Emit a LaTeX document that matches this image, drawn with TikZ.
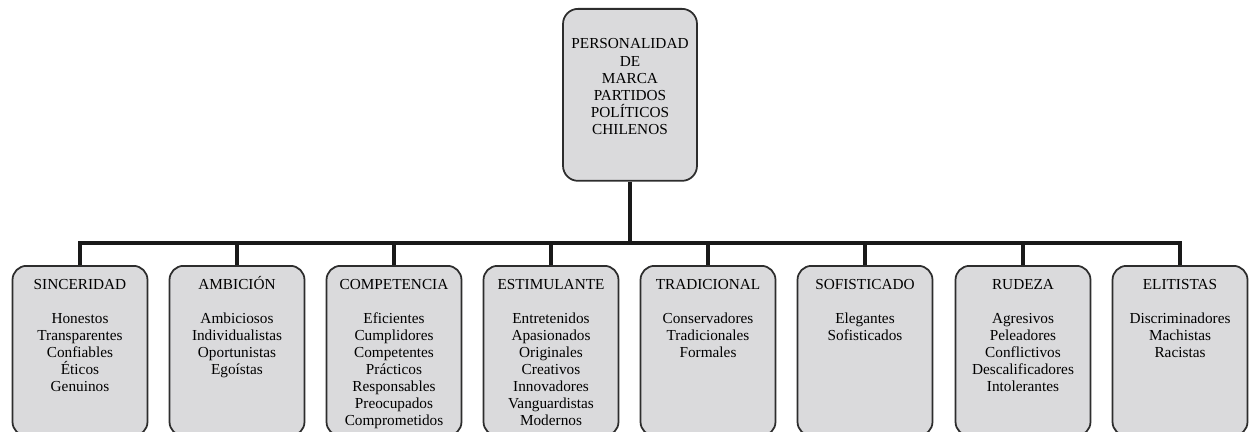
\documentclass[tikz,border=0pt]{standalone}
\usepackage{fontspec}
\setmainfont{Liberation Serif}
\usetikzlibrary{positioning}
\definecolor{boxgray}{RGB}{218,218,220}
\definecolor{edge}{RGB}{45,45,45}

\begin{document}
\begin{tikzpicture}[
    x=0.02cm, y=-0.02cm,
    catbox/.style={draw=edge, line width=1pt, fill=boxgray, rounded corners=0.28cm, minimum width=2.7cm, minimum height=3.4cm, anchor=north, inner sep=0pt},
    topbox/.style={catbox, minimum width=2.68cm, minimum height=3.44cm, rounded corners=0.3cm},
    words/.style={anchor=north, align=center, inner sep=0pt, font=\fontsize{8.7}{9.7}\selectfont},
    link/.style={line width=2.2pt, draw=black!90},
]
    \useasboundingbox (0,0) rectangle (1250,432);

    % root
    \node[topbox] (brand) at (630,8) {};
    \node[words, below=0.61cm of brand.north] (brandT) {PERSONALIDAD\\DE\\MARCA\\PARTIDOS\\POLÍTICOS\\CHILENOS};
    \coordinate (hub) at (630,243);

    % dimensions
    \node[catbox] (sin) at (80,265) {};
    \node[catbox] (amb) at (237,265) {};
    \node[catbox] (comp) at (394,265) {};
    \node[catbox] (estim) at (551,265) {};
    \node[catbox] (trad) at (708,265) {};
    \node[catbox] (sofi) at (865,265) {};
    \node[catbox] (rude) at (1023,265) {};
    \node[catbox] (elit) at (1180,265) {};

    \node[words, below=0.28cm of sin.north] (sinT) {SINCERIDAD\\[9.7pt]Honestos\\Transparentes\\Confiables\\Éticos\\Genuinos};
    \node[words, below=0.22cm of amb.north] (ambT) {AMBICIÓN\\[9.7pt]Ambiciosos\\Individualistas\\Oportunistas\\Egoístas};
    \node[words, below=0.28cm of comp.north] (compT) {COMPETENCIA\\[9.7pt]Eficientes\\Cumplidores\\Competentes\\Prácticos\\Responsables\\Preocupados\\Comprometidos};
    \node[words, below=0.28cm of estim.north] (estimT) {ESTIMULANTE\\[9.7pt]Entretenidos\\Apasionados\\Originales\\Creativos\\Innovadores\\Vanguardistas\\Modernos};
    \node[words, below=0.28cm of trad.north] (tradT) {TRADICIONAL\\[9.7pt]Conservadores\\Tradicionales\\Formales};
    \node[words, below=0.28cm of sofi.north] (sofiT) {SOFISTICADO\\[9.7pt]Elegantes\\Sofisticados};
    \node[words, below=0.28cm of rude.north] (rudeT) {RUDEZA\\[9.7pt]Agresivos\\Peleadores\\Conflictivos\\Descalificadores\\Intolerantes};
    \node[words, below=0.28cm of elit.north] (elitT) {ELITISTAS\\[9.7pt]Discriminadores\\Machistas\\Racistas};

    % tree lines
    \draw[link] (brand.south) -- (hub);
    \foreach \b in {sin,amb,comp,estim,trad,sofi,rude,elit}
        \draw[link] (\b.north) |- (hub);
\end{tikzpicture}
\end{document}
